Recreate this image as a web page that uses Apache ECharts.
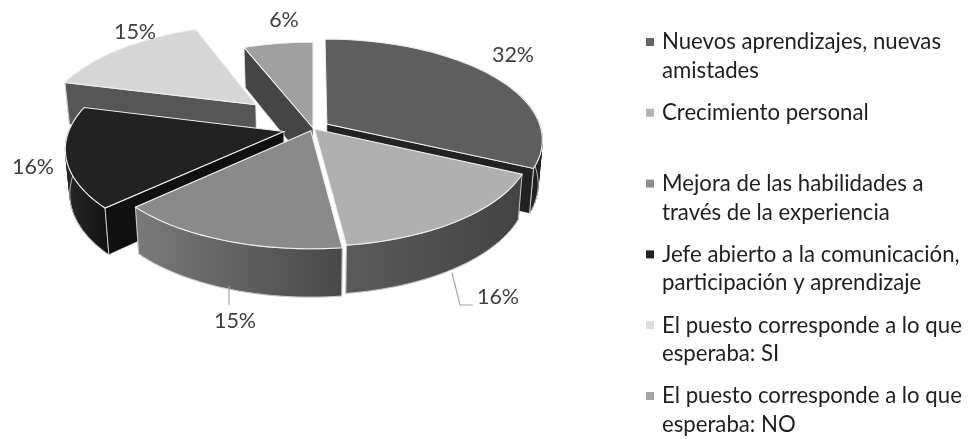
<!DOCTYPE html>
<html>
<head>
<meta charset="utf-8">
<style>
html, body { margin: 0; padding: 0; background: #fff; }
#chart { width: 970px; height: 439px; }
</style>
<script src="https://cdn.jsdelivr.net/npm/echarts@6/dist/echarts.min.js"></script>
</head>
<body>
<div id="chart"></div>
<script>
var categories = [
    'Nuevos aprendizajes, nuevas\namistades',
    'Crecimiento personal',
    'Mejora de las habilidades a\ntravés de la experiencia',
    'Jefe abierto a la comunicación,\nparticipación y aprendizaje',
    'El puesto corresponde a lo que\nesperaba: SI',
    'El puesto corresponde a lo que\nesperaba: NO'
];
var values = [32, 16, 15, 16, 15, 6];

// estilo de cada rebanada
var topColors = ['#5e5e5e', '#b0b0b0', '#8a8a8a', '#222222', '#d6d6d6', '#a0a0a0'];
var legendColors = ['#666666', '#b4b4b4', '#8c8c8c', '#222222', '#dcdcdc', '#a6a6a6'];
var wallColors = [['#242424', '#1e1e1e'], ['#5a5a5a', '#434343'], ['#7a7a7a', '#484848'], ['#282828', '#111111'], ['#565656', '#565656'], ['#454545', '#454545']];
var faceColors = ['#222222', '#434343', '#484848', '#101010', '#565656', '#454545'];
var explode = [0.077, 0.012, 0.03, 0.14, 0.37, 0];
var drawOrder = [5, 4, 0, 3, 2, 1];

// posicion de las etiquetas
var labelPos = [[513, 55], [498, 297], [235, 321], [33, 167], [135, 32], [284, 20]];
var leaders = { 1: [[452, 273], [460, 305], [473, 305]], 2: [[229, 286], [229, 305]] };

// proyeccion del disco
var cx = 313, cy = 128, rx = 214, ry = 99, persp = 0.153;
var legendTop = 42, legendStep = 70.8;
var FONT = 'Lato, "Open Sans", sans-serif';

function project(X, Y) {
    var s = 1 / (1 - persp * Y);
    return [cx + rx * X * s, cy + ry * Y * s];
}

function under(p) {
    return [cx + (p[0] - cx) * 0.982, cy + (p[1] - cy) * 1.04 + 43.5];
}

var total = values.reduce(function (a, b) { return a + b; }, 0);
var startAngles = [];
values.reduce(function (acc, v, i) {
    startAngles[i] = acc;
    return acc + v / total * 360;
}, 0);

function sliceGeometry(i) {
    var a0 = startAngles[i];
    var a1 = a0 + values[i] / total * 360;
    var mid = (a0 + a1) / 2 * Math.PI / 180;
    var ox = Math.sin(mid) * explode[i], oy = -Math.cos(mid) * explode[i];
    var arc = [], front = [];
    var n = Math.ceil((a1 - a0) / 2);
    for (var k = 0; k <= n; k++) {
        var t = (a0 + (a1 - a0) * k / n) * Math.PI / 180;
        var p = project(ox + Math.sin(t), oy - Math.cos(t));
        arc.push(p);
        if (-Math.cos(t) > -0.35) front.push(p);
    }
    return { apex: project(ox, oy), arc: arc, front: front, a0: a0, a1: a1 };
}

function face(p, q, color) {
    return {
        type: 'polygon',
        shape: { points: [p, q, under(q), under(p)] },
        style: { fill: color, stroke: '#e6e6e6', lineWidth: 0.8 }
    };
}

function renderItem(params, api) {
    var i = api.value(0);
    var g = sliceGeometry(i);
    var arc = g.arc;
    var children = [];

    // relleno de la silueta entre tapa y base
    for (var k = 0; k + 1 < g.front.length; k++) {
        var p = g.front[k], q = g.front[k + 1];
        children.push({
            type: 'polygon',
            shape: { points: [p, q, under(q), under(p)] },
            style: { fill: wallColors[i][0], stroke: wallColors[i][0], lineWidth: 0.6 }
        });
    }
    // pared exterior, solo la parte que mira al frente
    if (g.front.length > 1) {
        children.push({
            type: 'polygon',
            shape: { points: g.front.concat(g.front.map(under).reverse()) },
            style: {
                fill: new echarts.graphic.LinearGradient(0, 0, 1, 0, [
                    { offset: 0, color: wallColors[i][0] },
                    { offset: 1, color: wallColors[i][1] }
                ]),
                stroke: '#e2e2e2',
                lineWidth: 0.8
            }
        });
    }
    // caras de corte, solo las que miran al frente
    if (Math.sin(g.a1 * Math.PI / 180) > 0.2) {
        children.push(face(g.apex, arc[arc.length - 1], faceColors[i]));
    }
    if (Math.sin(g.a0 * Math.PI / 180) < -0.2) {
        children.push(face(g.apex, arc[0], faceColors[i]));
    }
    // tapa
    children.push({
        type: 'polygon',
        shape: { points: [g.apex].concat(arc) },
        style: { fill: topColors[i], stroke: '#efefef', lineWidth: 1.1 }
    });

    if (leaders[i]) {
        children.push({
            type: 'polyline',
            shape: { points: leaders[i] },
            style: { fill: null, stroke: '#a6a6a6', lineWidth: 1.2 }
        });
    }
    children.push({
        type: 'text',
        style: {
            x: labelPos[i][0], y: labelPos[i][1],
            text: values[i] + '%',
            fill: '#404040',
            font: '21.5px ' + FONT,
            align: 'center', verticalAlign: 'middle'
        }
    });

    // leyenda
    var ly = legendTop + i * legendStep;
    children.push({
        type: 'rect',
        shape: { x: 646, y: ly - 4, width: 8, height: 8 },
        style: { fill: legendColors[i] }
    });
    children.push({
        type: 'text',
        style: {
            x: 662, y: ly - 14,
            text: categories[i],
            fill: '#1f1f1f',
            font: '22.2px ' + FONT,
            lineHeight: 28.5,
            align: 'left', verticalAlign: 'top'
        }
    });
    return { type: 'group', children: children };
}

var myChart = echarts.init(document.getElementById('chart'), null, { renderer: 'canvas' });
myChart.setOption({
    animation: false,
    backgroundColor: '#ffffff',
    series: [{
        type: 'custom',
        coordinateSystem: 'none',
        renderItem: renderItem,
        data: drawOrder.map(function (i) { return [i, values[i]]; })
    }]
});
</script>
</body>
</html>
